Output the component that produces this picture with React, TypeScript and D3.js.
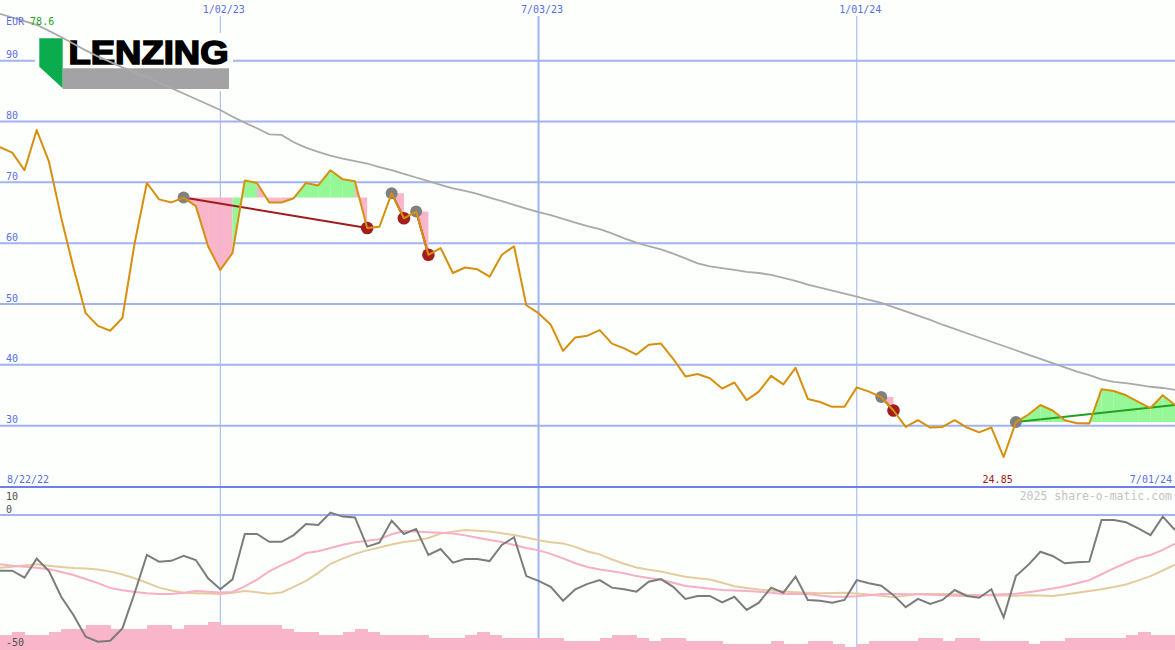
import React from 'react';
import * as d3 from 'd3';

const W = 1175;
const H = 650;
const START = Date.UTC(2022, 7, 29);
const END = Date.UTC(2024, 6, 1);

// weekly close (EUR)
const price = [
  75.8, 74.9, 72.0, 78.6, 73.4, 64.2, 56.0, 48.5, 46.4, 45.6,
  47.7, 60.0, 69.9, 67.2, 66.7, 67.5, 66.1, 59.5, 55.6, 58.4,
  70.3, 69.9, 66.7, 66.7, 67.4, 69.9, 69.5, 72.0, 70.5, 70.2,
  62.5, 62.7, 68.2, 64.1, 65.2, 58.1, 59.2, 55.1, 56.0, 55.7,
  54.5, 58.1, 59.5, 49.8, 48.5, 46.6, 42.3, 44.5, 44.8, 45.7,
  43.5, 42.7, 41.7, 43.3, 43.5, 41.0, 38.1, 38.5, 37.8, 36.1,
  37.1, 34.2, 35.6, 38.2, 36.8, 39.5, 34.4, 33.9, 33.1, 33.1,
  36.3, 35.6, 34.7, 32.5, 29.8, 30.9, 29.7, 29.8, 30.9, 29.7,
  28.9, 29.7, 24.85, 30.6, 31.8, 33.4, 32.5, 30.9, 30.4, 30.35,
  36.0, 35.7, 35.0, 33.9, 32.9, 35.0, 33.4,
];

// long moving average (gray)
const movingAvg = [
  97.7, 97.1, 96.5, 95.9, 94.9, 93.9, 92.8, 91.7, 90.7, 89.8,
  88.9, 88.1, 87.3, 86.4, 85.5, 84.6, 83.7, 82.8, 81.9, 80.8,
  79.8, 78.9, 77.9, 77.8, 76.6, 75.7, 75.0, 74.4, 73.9, 73.5,
  73.1, 72.5, 72.0, 71.4, 70.8, 70.2, 69.6, 69.0, 68.6, 68.1,
  67.5, 66.9, 66.3, 65.7, 65.1, 64.6, 64.0, 63.4, 62.8, 62.3,
  61.6, 60.8, 60.1, 59.5, 59.0, 58.3, 57.5, 56.7, 56.2, 55.9,
  55.6, 55.3, 55.1, 54.8, 54.3, 53.8, 53.2, 52.7, 52.2, 51.7,
  51.2, 50.7, 50.2, 49.5, 48.8, 48.1, 47.4, 46.6, 45.9, 45.2,
  44.5, 43.8, 43.1, 42.4, 41.7, 41.0, 40.3, 39.6, 38.9, 38.3,
  37.6, 37.2, 37.0, 36.7, 36.4, 36.2, 35.9,
];

// lower panel oscillator (gray)
const osc = [
  -20.8, -20.8, -23.4, -16.3, -20.9, -30.5, -37.3, -45.4, -47.3, -46.9,
  -42.3, -29.1, -14.9, -17.4, -17.1, -15.2, -16.8, -23.6, -27.7, -24.0,
  -7.1, -7.1, -10.0, -10.0, -7.5, -3.4, -3.7, 0.9, -0.6, -0.9,
  -11.8, -10.3, -2.1, -7.1, -5.2, -14.9, -12.7, -17.8, -16.4, -16.4,
  -17.2, -11.2, -8.3, -22.8, -24.6, -26.8, -32.0, -27.7, -25.7, -24.3,
  -27.1, -27.7, -28.6, -24.9, -23.9, -26.8, -31.3, -30.2, -30.2, -32.6,
  -30.5, -35.4, -32.7, -27.1, -29.0, -23.0, -31.7, -32.0, -32.7, -31.7,
  -24.3, -25.5, -26.4, -29.9, -34.4, -31.3, -33.2, -31.7, -28.0, -30.2,
  -30.9, -27.7, -38.2, -22.8, -18.7, -13.7, -15.3, -18.0, -17.6, -17.4,
  -1.9, -1.9, -2.7, -5.0, -7.5, -0.6, -5.6,
];

// fast average of oscillator (pink)
const oscFast = [
  -18.4, -18.9, -19.3, -19.7, -20.2, -21.3, -22.4, -23.9, -25.4, -27.2,
  -28.1, -28.7, -29.2, -29.5, -29.5, -29.0, -28.4, -28.6, -28.9, -28.7,
  -26.6, -24.1, -21.0, -18.7, -16.7, -14.2, -13.5, -12.3, -11.1, -10.2,
  -9.6, -9.0, -7.2, -6.0, -6.2, -6.4, -6.6, -6.9, -7.6, -8.5,
  -9.3, -10.1, -11.2, -12.3, -13.2, -14.5, -16.2, -18.0, -19.4, -20.3,
  -21.0, -21.7, -22.8, -23.5, -24.2, -25.3, -26.5, -27.0, -27.5, -28.0,
  -28.2, -28.4, -28.6, -29.0, -29.5, -29.5, -29.5, -30.0, -30.5, -30.5,
  -30.3, -29.9, -29.5, -29.5, -29.6, -29.6, -29.8, -29.9, -30.1, -30.2,
  -30.0, -29.8, -29.6, -29.4, -28.8, -28.2, -27.4, -26.6, -25.5, -24.3,
  -22.1, -19.9, -17.9, -16.0, -14.9, -13.0, -10.7,
];

// slow average of oscillator (tan)
const oscSlow = [
  -19.7, -19.3, -18.8, -18.4, -18.9, -19.4, -19.8, -20.0, -20.3, -21.1,
  -22.2, -23.6, -25.3, -27.1, -28.2, -29.0, -29.2, -29.3, -29.5, -29.0,
  -28.4, -28.8, -29.4, -28.9, -26.8, -24.6, -21.6, -18.2, -16.3, -14.5,
  -13.2, -12.1, -11.0, -10.1, -9.5, -8.6, -6.9, -6.2, -5.6, -5.9,
  -6.2, -6.8, -7.5, -8.4, -9.4, -10.2, -10.6, -11.9, -13.6, -14.7,
  -16.6, -18.2, -19.6, -20.4, -21.1, -22.1, -23.0, -23.6, -24.1, -25.3,
  -26.6, -27.2, -27.8, -28.2, -28.5, -28.8, -29.0, -29.2, -29.1, -29.0,
  -29.3, -29.7, -30.1, -30.7, -30.0, -29.5, -29.5, -29.5, -29.6, -29.8,
  -29.9, -30.0, -30.0, -30.1, -29.9, -30.0, -30.2, -29.7, -29.0, -28.4,
  -27.7, -26.9, -25.9, -24.4, -22.8, -20.7, -18.5,
];

// weekly volume level (pink bars)
const volume = [
  5, 6, 5, 5, 6, 7, 7, 8, 8, 7,
  7, 7, 8, 8, 7, 8, 8, 9, 8, 8,
  8, 8, 8, 7, 6, 6, 5, 5, 6, 7,
  6, 5, 5, 5, 5, 4, 4, 4, 5, 6,
  5, 4, 4, 4, 4, 4, 3, 3, 3, 4,
  5, 5, 4, 3, 4, 4, 3, 3, 3, 2,
  2, 2, 2, 3, 2, 2, 3, 3, 2, 1,
  2, 3, 3, 3, 3, 4, 4, 3, 4, 4,
  3, 3, 3, 3, 2, 3, 3, 4, 4, 4,
  4, 4, 5, 6, 5, 5, 5,
];

const priceTicks = [30, 40, 50, 60, 70, 80, 90];
const dateLines = [
  { date: Date.UTC(2023, 0, 2), label: '1/02/23', width: 1 },
  { date: Date.UTC(2023, 6, 3), label: '7/03/23', width: 2 },
  { date: Date.UTC(2024, 0, 1), label: '1/01/24', width: 1 },
];
const signalStarts = [15, 32, 34, 72, 83];
const signalEnds = [30, 33, 35, 73, 96];
const signalClosed = [true, true, true, true, false];

const FONT = '"DejaVu Sans Mono", monospace';
const BLUE_TXT = '#5a6ee8';
const GRID = '#a4b2f0';
const PINK = '#f9b5c9';
const GREEN = '#96f796';

export default function App() {
  const dates = price.map((_, i) => new Date(START + i * 7 * 864e5));
  const x = d3.scaleUtc().domain([new Date(START), new Date(END)]).range([0, W]);
  const y = d3.scaleLinear().domain([30, 90]).range([425.7, 60.7]);
  const yo = d3.scaleLinear().domain([-50, 10]).range([649, 488.2]);
  const yv = d3.scaleLinear().domain([0, 10]).range([650, 619.3]);

  const xi = (i: number) => x(dates[i]);
  const priceLine = d3.line<number>().x((_, i) => xi(i)).y((d) => y(d));
  const oscLine = d3.line<number>().x((_, i) => xi(i)).y((d) => yo(d));

  const maxPrice = d3.max(price) as number;
  const minPrice = d3.min(price) as number;
  const minIdx = price.indexOf(minPrice);
  const step = xi(1) - xi(0);

  const fills: JSX.Element[] = [];
  signalStarts.forEach((s, k) => {
    const e = signalEnds[k];
    const ref = price[s];
    for (let j = s; j < e; j++) {
      const pts: [number, number][] = [
        [xi(j), y(ref)],
        [xi(j + 1), y(ref)],
        [xi(j + 1), y(price[j + 1])],
        [xi(j), y(price[j])],
      ];
      fills.push(
        <polygon
          key={`f${k}-${j}`}
          points={pts.map((p) => p.join(',')).join(' ')}
          fill={price[j + 1] >= ref ? GREEN : PINK}
        />
      );
    }
  });

  return (
    <svg
      width={W}
      height={H}
      style={{ position: 'absolute', left: 0, top: 0, display: 'block' }}
      fontFamily={FONT}
    >
      <rect x={0} y={0} width={W} height={H} fill="#fcfffc" />

      {/* horizontal grid */}
      {priceTicks.map((t) => (
        <line key={t} x1={0} x2={W} y1={y(t)} y2={y(t)} stroke={GRID} strokeWidth={2} />
      ))}
      <line x1={0} x2={W} y1={yo(0)} y2={yo(0)} stroke={GRID} strokeWidth={2} />

      {/* vertical date lines */}
      {dateLines.map((d) => (
        <line
          key={d.label}
          x1={x(new Date(d.date))}
          x2={x(new Date(d.date))}
          y1={16}
          y2={H}
          stroke={GRID}
          strokeWidth={d.width}
        />
      ))}

      {/* volume bars */}
      {volume.map((v, i) => (
        <rect
          key={`v${i}`}
          x={xi(i)}
          y={yv(v)}
          width={step + 0.6}
          height={650 - yv(v)}
          fill={PINK}
          shapeRendering="crispEdges"
        />
      ))}

      {/* bottom axis of price panel */}
      <line x1={0} x2={W} y1={487} y2={487} stroke="#6f7fe6" strokeWidth={2} />

      {/* logo */}
      <g>
        <rect x={35} y={33} width={198} height={58} fill="#fcfffc" />
        <polygon points="39.3,38.3 62.7,38.3 62.7,88.3 39.3,66.7" fill="#0bac4e" />
        <rect x={62.7} y={68.3} width={166.3} height={20.7} fill="#a3a3a6" />
        <text
          x={68.5}
          y={63.5}
          fontFamily='"Liberation Sans", Arial, sans-serif'
          fontWeight="bold"
          fontSize={34}
          textLength={160}
          lengthAdjust="spacingAndGlyphs"
          fill="#000"
          stroke="#000"
          strokeWidth={1.6}
          strokeLinejoin="miter"
        >
          LENZING
        </text>
      </g>

      {/* moving average */}
      <path d={priceLine(movingAvg) as string} fill="none" stroke="#a9a9a9" strokeWidth={1.8} />

      {/* signal fills */}
      {fills}

      {/* signal lines */}
      {signalStarts.map((s, k) => (
        <line
          key={`sl${k}`}
          x1={xi(s)}
          y1={y(price[s])}
          x2={xi(signalEnds[k])}
          y2={y(price[signalEnds[k]])}
          stroke={signalClosed[k] ? '#a01c1c' : '#22a022'}
          strokeWidth={2}
        />
      ))}

      {/* signal dots */}
      {signalStarts.map((s, k) => (
        <circle key={`sd${k}`} cx={xi(s)} cy={y(price[s])} r={6} fill="#808080" />
      ))}
      {signalStarts.map((s, k) =>
        signalClosed[k] ? (
          <circle
            key={`ed${k}`}
            cx={xi(signalEnds[k])}
            cy={y(price[signalEnds[k]])}
            r={6.3}
            fill="#a31d1d"
          />
        ) : null
      )}

      {/* price line */}
      <path d={priceLine(price) as string} fill="none" stroke="#d6900e" strokeWidth={2} strokeLinejoin="round" />

      {/* lower panel lines */}
      <path d={oscLine(oscSlow) as string} fill="none" stroke="#e5cc9e" strokeWidth={2} />
      <path d={oscLine(oscFast) as string} fill="none" stroke="#f7aec6" strokeWidth={2} />
      <path d={oscLine(osc) as string} fill="none" stroke="#7c7c7c" strokeWidth={2} />

      {/* price labels */}
      {priceTicks.map((t) => (
        <text key={`pt${t}`} x={6} y={y(t) - 2.5} fontSize={10} fill={BLUE_TXT}>
          {t}
        </text>
      ))}
      <text x={6} y={25} fontSize={10}>
        <tspan fill={BLUE_TXT}>EUR </tspan>
        <tspan fill="#22a022">{d3.format('.1f')(maxPrice)}</tspan>
      </text>

      {/* date labels */}
      {dateLines.map((d) => (
        <text
          key={`dl${d.label}`}
          x={x(new Date(d.date)) + 3.5}
          y={13}
          fontSize={10}
          fill={BLUE_TXT}
          textAnchor="middle"
        >
          {d.label}
        </text>
      ))}
      <text x={7} y={483} fontSize={10} fill={BLUE_TXT}>
        8/22/22
      </text>
      <text x={1172} y={483} fontSize={10} fill={BLUE_TXT} textAnchor="end">
        7/01/24
      </text>
      <text x={xi(minIdx) - 6} y={483} fontSize={10} fill="#a01818" textAnchor="middle">
        {d3.format('.2f')(minPrice)}
      </text>
      <text x={1172} y={500} fontSize={11.5} fill="#c4c4c4" textAnchor="end">
        2025 share-o-matic.com
      </text>

      {/* lower panel labels */}
      <text x={6} y={500} fontSize={10} fill="#505050">10</text>
      <text x={6} y={512.5} fontSize={10} fill="#505050">0</text>
      <text x={6} y={646} fontSize={10} fill="#505050">-50</text>
    </svg>
  );
}
